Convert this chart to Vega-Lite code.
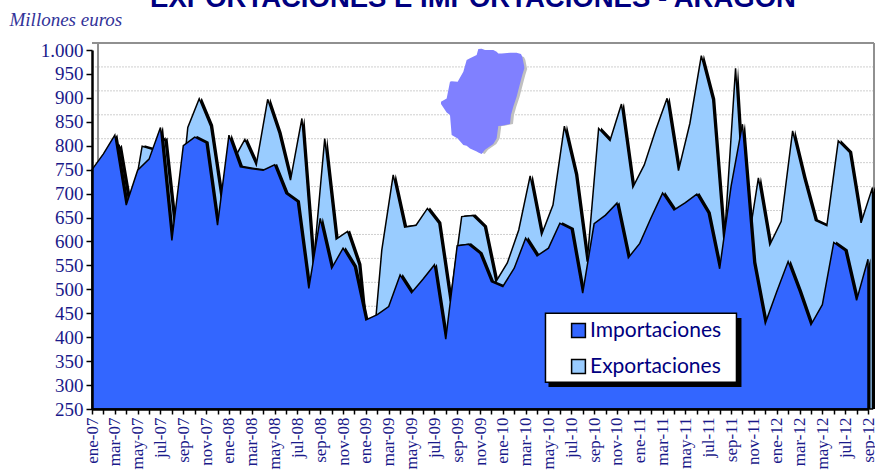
{"$schema":"https://vega.github.io/schema/vega-lite/v6.json","width":776,"height":359,"autosize":"none","padding":{"left":92,"top":50,"right":7,"bottom":65},"background":"white","title":{"text":"EXPORTACIONES E IMPORTACIONES - ARAGON","font":"Liberation Sans","fontWeight":"bold","fontSize":27.5,"color":"#000080","anchor":"middle","frame":"group","dx":-7,"dy":26,"offset":2,"baseline":"alphabetic"},"config":{"view":{"stroke":null},"legend":{"symbolStrokeColor":"black"},"axis":{"labelBound":false,"labelFlush":false}},"layer":[{"data":{"values":[{"m":"ene-07","imp":750,"exp":740},{"m":"feb-07","imp":783,"exp":770},{"m":"mar-07","imp":822,"exp":800},{"m":"abr-07","imp":676,"exp":660},{"m":"may-07","imp":749,"exp":799},{"m":"jun-07","imp":772,"exp":792},{"m":"jul-07","imp":838,"exp":815},{"m":"ago-07","imp":602,"exp":598},{"m":"sep-07","imp":800,"exp":838},{"m":"oct-07","imp":818,"exp":898},{"m":"nov-07","imp":806,"exp":841},{"m":"dic-07","imp":634,"exp":680},{"m":"ene-08","imp":822,"exp":770},{"m":"feb-08","imp":756,"exp":813},{"m":"mar-08","imp":752,"exp":760},{"m":"abr-08","imp":749,"exp":897},{"m":"may-08","imp":760,"exp":826},{"m":"jun-08","imp":700,"exp":728},{"m":"jul-08","imp":683,"exp":857},{"m":"ago-08","imp":502,"exp":550},{"m":"sep-08","imp":648,"exp":815},{"m":"oct-08","imp":544,"exp":605},{"m":"nov-08","imp":586,"exp":621},{"m":"dic-08","imp":547,"exp":551},{"m":"ene-09","imp":436,"exp":310},{"m":"feb-09","imp":447,"exp":582},{"m":"mar-09","imp":464,"exp":739},{"m":"abr-09","imp":530,"exp":630},{"m":"may-09","imp":493,"exp":634},{"m":"jun-09","imp":521,"exp":669},{"m":"jul-09","imp":551,"exp":638},{"m":"ago-09","imp":396,"exp":475},{"m":"sep-09","imp":591,"exp":652},{"m":"oct-09","imp":594,"exp":654},{"m":"nov-09","imp":575,"exp":631},{"m":"dic-09","imp":516,"exp":516},{"m":"ene-10","imp":506,"exp":555},{"m":"feb-10","imp":544,"exp":624},{"m":"mar-10","imp":607,"exp":737},{"m":"abr-10","imp":570,"exp":614},{"m":"may-10","imp":586,"exp":676},{"m":"jun-10","imp":638,"exp":841},{"m":"jul-10","imp":626,"exp":739},{"m":"ago-10","imp":492,"exp":558},{"m":"sep-10","imp":637,"exp":836},{"m":"oct-10","imp":655,"exp":811},{"m":"nov-10","imp":680,"exp":887},{"m":"dic-10","imp":566,"exp":713},{"m":"ene-11","imp":596,"exp":760},{"m":"feb-11","imp":650,"exp":833},{"m":"mar-11","imp":701,"exp":899},{"m":"abr-11","imp":666,"exp":748},{"m":"may-11","imp":681,"exp":847},{"m":"jun-11","imp":699,"exp":988},{"m":"jul-11","imp":659,"exp":896},{"m":"ago-11","imp":543,"exp":596},{"m":"sep-11","imp":715,"exp":962},{"m":"oct-11","imp":845,"exp":580},{"m":"nov-11","imp":555,"exp":733},{"m":"dic-11","imp":429,"exp":593},{"m":"ene-12","imp":495,"exp":642},{"m":"feb-12","imp":558,"exp":831},{"m":"mar-12","imp":495,"exp":732},{"m":"abr-12","imp":426,"exp":644},{"m":"may-12","imp":468,"exp":633},{"m":"jun-12","imp":598,"exp":810},{"m":"jul-12","imp":581,"exp":786},{"m":"ago-12","imp":477,"exp":639},{"m":"sep-12","imp":563,"exp":713}]},"encoding":{"x":{"field":"m","type":"ordinal","sort":null,"scale":{"type":"point","padding":0,"domain":["ene-07","feb-07","mar-07","abr-07","may-07","jun-07","jul-07","ago-07","sep-07","oct-07","nov-07","dic-07","ene-08","feb-08","mar-08","abr-08","may-08","jun-08","jul-08","ago-08","sep-08","oct-08","nov-08","dic-08","ene-09","feb-09","mar-09","abr-09","may-09","jun-09","jul-09","ago-09","sep-09","oct-09","nov-09","dic-09","ene-10","feb-10","mar-10","abr-10","may-10","jun-10","jul-10","ago-10","sep-10","oct-10","nov-10","dic-10","ene-11","feb-11","mar-11","abr-11","may-11","jun-11","jul-11","ago-11","sep-11","oct-11","nov-11","dic-11","ene-12","feb-12","mar-12","abr-12","may-12","jun-12","jul-12","ago-12","sep-12"]},"axis":{"title":null,"labelAngle":270,"labelFont":"Liberation Serif","labelFontSize":17,"labelColor":"#1a1a8a","labelPadding":3,"labelOverlap":false,"labelExpr":"test(/^(ene|mar|may|jul|sep|nov)/, datum.value) ? datum.value : ''","domainColor":"black","domainWidth":2.5,"tickColor":"black","tickWidth":1.5,"tickSize":5,"grid":false,"zindex":1}}},"layer":[{"data":{"values":[{"g":300},{"g":350},{"g":400},{"g":450},{"g":500},{"g":550},{"g":600},{"g":650},{"g":700},{"g":750},{"g":800},{"g":850},{"g":900},{"g":950}]},"mark":{"type":"rule","color":"#cfcfcf","strokeWidth":1,"strokeDash":[2,1],"yOffset":-7,"xOffset":6},"encoding":{"x":null,"y":{"field":"g","type":"quantitative","scale":{"domain":[250,1000],"nice":false,"zero":false},"axis":null}}},{"data":{"values":[{"g":1000}]},"mark":{"type":"rule","color":"#909090","strokeWidth":2,"yOffset":-7,"xOffset":6},"encoding":{"x":null,"y":{"field":"g","type":"quantitative","scale":{"domain":[250,1000],"nice":false,"zero":false},"axis":null}}},{"data":{"values":[{"a":"ene-07","top":1000,"bottom":250},{"a":"sep-12","top":1000,"bottom":250}]},"mark":{"type":"rule","color":"#909090","strokeWidth":2,"xOffset":6,"yOffset":-7},"encoding":{"x":{"field":"a","type":"ordinal"},"y":{"field":"top","type":"quantitative","scale":{"domain":[250,1000],"nice":false,"zero":false},"axis":null},"y2":{"field":"bottom"}}},{"mark":{"type":"area","color":"black","xOffset":7,"yOffset":-1},"encoding":{"y":{"field":"exp","type":"quantitative","scale":{"domain":[250,1000],"nice":false,"zero":false},"axis":null},"y2":{"datum":250}}},{"mark":{"type":"area","stroke":"black","strokeWidth":1.5,"xOffset":4.5,"strokeJoin":"miter"},"encoding":{"y":{"field":"exp","type":"quantitative","scale":{"domain":[250,1000],"nice":false,"zero":false},"axis":null},"y2":{"datum":250},"color":{"datum":"Exportaciones","type":"nominal"}}},{"mark":{"type":"area","color":"black","xOffset":2.5,"yOffset":-1},"encoding":{"y":{"field":"imp","type":"quantitative","scale":{"domain":[250,1000],"nice":false,"zero":false},"axis":null},"y2":{"datum":250}}},{"mark":{"type":"area","stroke":"black","strokeWidth":1.5,"strokeJoin":"miter"},"encoding":{"y":{"field":"imp","type":"quantitative","scale":{"domain":[250,1000],"nice":false,"zero":false},"axis":null},"y2":{"datum":250},"color":{"datum":"Importaciones","type":"nominal","scale":{"domain":["Importaciones","Exportaciones"],"range":["#3366ff","#99ccff"]},"legend":{"title":null,"orient":"none","legendX":476,"legendY":270,"padding":0,"symbolType":"square","symbolSize":190,"symbolStrokeWidth":1.5,"labelFont":"Lato","labelFontSize":21,"labelColor":"#000080","labelOffset":1,"rowPadding":14,"zindex":3}}}},{"data":{"values":[{"a":"may-10","b":"oct-11","top":440,"bottom":296}]},"mark":{"type":"rect","color":"black","xOffset":0,"x2Offset":-1},"encoding":{"x":{"field":"a","type":"ordinal"},"x2":{"field":"b"},"y":{"field":"top","type":"quantitative","scale":{"domain":[250,1000],"nice":false,"zero":false},"axis":null},"y2":{"field":"bottom"}}},{"data":{"values":[{"a":"may-10","b":"oct-11","top":450,"bottom":306}]},"mark":{"type":"rect","fill":"white","stroke":"black","strokeWidth":1.5,"xOffset":-3,"x2Offset":-6},"encoding":{"x":{"field":"a","type":"ordinal"},"x2":{"field":"b"},"y":{"field":"top","type":"quantitative","scale":{"domain":[250,1000],"nice":false,"zero":false},"axis":null},"y2":{"field":"bottom"}}}]},{"data":{"values":[{"lon":-2.2,"n":41.36,"s":41.3},{"lon":-1.996,"n":41.46,"s":41.05},{"lon":-1.876,"n":41.94,"s":40.98},{"lon":-1.816,"n":41.96,"s":40.4},{"lon":-1.6,"n":41.94,"s":40.3},{"lon":-1.396,"n":42.23,"s":40.11},{"lon":-1.276,"n":42.57,"s":40.09},{"lon":-1.156,"n":42.62,"s":40.01},{"lon":-0.916,"n":42.72,"s":39.92},{"lon":-0.856,"n":42.89,"s":39.89},{"lon":-0.736,"n":42.9,"s":39.85},{"lon":-0.616,"n":42.86,"s":39.97},{"lon":-0.316,"n":42.86,"s":40.14},{"lon":-0.196,"n":42.81,"s":40.3},{"lon":-0.136,"n":42.76,"s":40.66},{"lon":-0.016,"n":42.76,"s":40.67},{"lon":0.284,"n":42.78,"s":40.72},{"lon":0.32,"n":42.78,"s":40.98},{"lon":0.404,"n":42.78,"s":41.22},{"lon":0.524,"n":42.78,"s":41.51},{"lon":0.68,"n":42.75,"s":41.99},{"lon":0.728,"n":42.67,"s":42.14},{"lon":0.8,"n":42.38,"s":42.33}]},"encoding":{"x":{"field":"lon","type":"quantitative","axis":null,"scale":{"domain":[-2.2,0.8],"range":[349,432.3],"zero":false,"nice":false}},"y":{"field":"n","type":"quantitative","axis":null,"scale":{"domain":[39.85,42.9],"range":[104,-1.3],"zero":false,"nice":false}},"y2":{"field":"s"}},"layer":[{"mark":{"type":"area","color":"#c0c0c0","xOffset":3,"yOffset":3}},{"mark":{"type":"area","color":"#8080ff"}}]},{"data":{"values":[{"v":250},{"v":300},{"v":350},{"v":400},{"v":450},{"v":500},{"v":550},{"v":600},{"v":650},{"v":700},{"v":750},{"v":800},{"v":850},{"v":900},{"v":950},{"v":1000}]},"mark":{"type":"point","opacity":0},"encoding":{"y":{"field":"v","type":"quantitative","scale":{"domain":[250,1000],"nice":false,"zero":false},"axis":{"title":"Millones euros","titleFont":"Liberation Serif","titleFontStyle":"italic","titleFontWeight":"normal","titleFontSize":19,"titleColor":"#333399","titleAngle":0,"titleAlign":"left","titleBaseline":"alphabetic","titleX":-83,"titleY":-25,"values":[250,300,350,400,450,500,550,600,650,700,750,800,850,900,950,1000],"labelExpr":"replace(format(datum.value, ','), ',', '.')","labelOverlap":false,"labelFont":"Liberation Serif","labelFontSize":19,"labelColor":"#1a1a8a","labelPadding":3,"domainColor":"black","domainWidth":2.5,"tickColor":"black","tickWidth":1.5,"tickSize":6,"grid":false,"zindex":1}}}}],"resolve":{"scale":{"x":"independent","y":"independent"},"axis":{"x":"independent","y":"independent"}}}
